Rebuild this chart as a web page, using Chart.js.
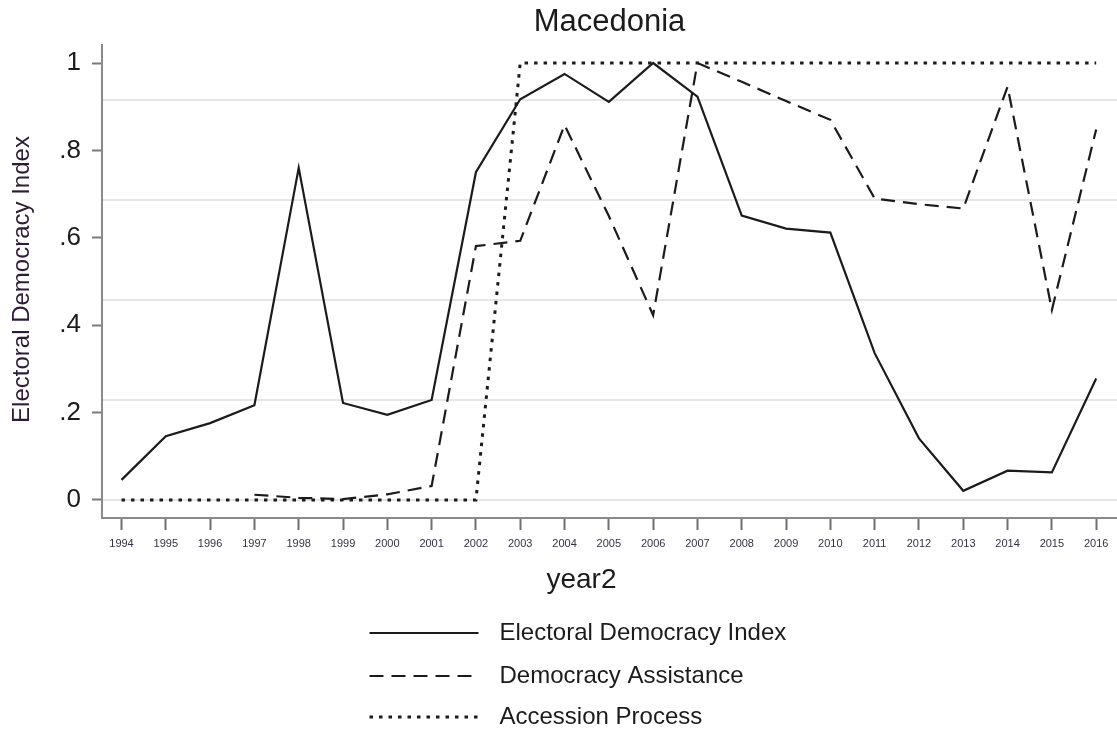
<!DOCTYPE html>
<html>
<head>
<meta charset="utf-8">
<title>Macedonia</title>
<script src="https://cdn.jsdelivr.net/npm/chart.js@4.4.1/dist/chart.umd.min.js"></script>
<style>
  html, body { margin: 0; padding: 0; background: #ffffff; }
  #wrap { width: 1117px; height: 730px; position: relative; }
</style>
</head>
<body>
<div id="wrap"><canvas id="chart" width="1117" height="730"></canvas></div>
<script>
// Years on the horizontal axis
const years = [1994, 1995, 1996, 1997, 1998, 1999, 2000, 2001, 2002, 2003, 2004, 2005,
               2006, 2007, 2008, 2009, 2010, 2011, 2012, 2013, 2014, 2015, 2016];

// Electoral Democracy Index
const electoralDemocracy = [0.046, 0.146, 0.176, 0.217, 0.760, 0.222, 0.195, 0.229, 0.750, 0.917,
                            0.975, 0.911, 1.000, 0.923, 0.651, 0.621, 0.612, 0.336, 0.141, 0.021,
                            0.067, 0.063, 0.278];

// Democracy Assistance (no values before 1997)
const democracyAssistance = [null, null, null, 0.012, 0.005, 0.002, 0.013, 0.032, 0.581, 0.593,
                             0.858, 0.650, 0.423, 1.000, 0.957, 0.913, 0.870, 0.690, 0.677, 0.667,
                             0.946, 0.435, 0.848];

// Accession Process
const accessionProcess = [0, 0, 0, 0, 0, 0, 0, 0, 0, 1, 1, 1, 1, 1, 1, 1, 1, 1, 1, 1, 1, 1, 1];

// Left axis ticks and their labels
const yTickValues = [0, 0.2, 0.4, 0.6, 0.8, 1];
const yTickLabels = ['0', '.2', '.4', '.6', '.8', '1'];

// Horizontal reference lines (secondary scale)
const gridValues = [0, 0.2288, 0.4577, 0.6865, 0.9153];

const seriesNames = ['Electoral Democracy Index', 'Democracy Assistance', 'Accession Process'];

const FONT = "'Liberation Sans', Arial, Helvetica, sans-serif";
const INK = '#1b1b1b';
const AXIS = '#8a8a8a';

const toPoints = arr => arr.map((v, i) => ({ x: years[i], y: v }));

// Title, axis titles and the stacked legend under the plot
const annotations = {
  id: 'annotations',
  afterDraw(chart) {
    const { ctx, chartArea } = chart;
    const midX = (chartArea.left + chartArea.right) / 2;
    const midY = (chartArea.top + chartArea.bottom) / 2;
    ctx.save();
    ctx.fillStyle = INK;
    ctx.textAlign = 'center';
    ctx.textBaseline = 'middle';
    ctx.font = '31px ' + FONT;
    ctx.fillText('Macedonia', midX, 22);

    ctx.font = '28px ' + FONT;
    ctx.fillText('year2', midX - 28, 580);

    ctx.save();
    ctx.translate(22, midY - 2);
    ctx.rotate(-Math.PI / 2);
    ctx.fillStyle = '#2e1b36';
    ctx.font = '24px ' + FONT;
    ctx.fillText('Electoral Democracy Index', 0, 0);
    ctx.restore();

    // legend
    const lineStart = midX - 240;
    const lineEnd = midX - 131;
    const textX = midX - 110;
    const rows = [633, 676, 717];
    chart.data.datasets.forEach((ds, i) => {
      const y = rows[i];
      ctx.save();
      ctx.strokeStyle = ds.borderColor;
      ctx.lineWidth = ds.borderWidth;
      ctx.setLineDash(ds.borderDash || []);
      ctx.beginPath();
      ctx.moveTo(lineStart, y);
      ctx.lineTo(lineEnd, y);
      ctx.stroke();
      ctx.restore();
      ctx.textAlign = 'left';
      ctx.fillStyle = INK;
      ctx.font = '24px ' + FONT;
      ctx.fillText(ds.label, textX, y);
    });
    ctx.restore();
  }
};

new Chart(document.getElementById('chart'), {
  type: 'line',
  data: {
    datasets: [
      {
        label: seriesNames[0],
        data: toPoints(electoralDemocracy),
        borderColor: INK,
        borderWidth: 2.2,
        borderDash: [],
        pointRadius: 0,
        tension: 0,
        yAxisID: 'y'
      },
      {
        label: seriesNames[1],
        data: toPoints(democracyAssistance),
        borderColor: INK,
        borderWidth: 2.2,
        borderDash: [14, 8],
        pointRadius: 0,
        tension: 0,
        spanGaps: false,
        yAxisID: 'y'
      },
      {
        label: seriesNames[2],
        data: toPoints(accessionProcess),
        borderColor: INK,
        borderWidth: 3,
        borderDash: [3.5, 6],
        pointRadius: 0,
        tension: 0,
        yAxisID: 'y'
      }
    ]
  },
  options: {
    responsive: false,
    animation: false,
    layout: { padding: { top: 45, right: 0, bottom: 0, left: 0 } },
    plugins: {
      legend: { display: false },
      title: { display: false },
      tooltip: { enabled: false }
    },
    scales: {
      x: {
        type: 'linear',
        position: 'bottom',
        min: 1993.56,
        max: 2016.47,
        afterBuildTicks(scale) {
          scale.ticks = years.map(v => ({ value: v }));
        },
        afterFit(scale) { scale.height = 212; },
        ticks: {
          autoSkip: false,
          maxRotation: 0,
          padding: 7,
          color: '#333344',
          font: { family: FONT, size: 11 },
          callback: v => String(v)
        },
        grid: {
          drawOnChartArea: false,
          drawTicks: true,
          tickLength: 12,
          tickColor: '#6e6e6e',
          tickWidth: 2
        },
        border: { display: true, color: AXIS, width: 2 }
      },
      y: {
        type: 'linear',
        position: 'left',
        min: -0.0412,
        max: 1.0412,
        afterBuildTicks(scale) {
          scale.ticks = yTickValues.map(v => ({ value: v }));
        },
        afterFit(scale) { scale.width = 102; },
        ticks: {
          padding: 11,
          color: INK,
          font: { family: FONT, size: 26 },
          callback: (v) => {
            const idx = yTickValues.findIndex(t => Math.abs(t - v) < 1e-9);
            return idx >= 0 ? yTickLabels[idx] : '';
          }
        },
        grid: {
          drawOnChartArea: false,
          drawTicks: true,
          tickLength: 10,
          tickColor: '#7a7a7a',
          tickWidth: 2
        },
        border: { display: true, color: AXIS, width: 2 }
      },
      yGrid: {
        type: 'linear',
        position: 'right',
        min: -0.0412,
        max: 1.0412,
        afterBuildTicks(scale) {
          scale.ticks = gridValues.map(v => ({ value: v }));
        },
        afterFit(scale) { scale.width = 0; },
        ticks: { display: false },
        grid: {
          drawOnChartArea: true,
          drawTicks: false,
          color: '#e6e6e6',
          lineWidth: 2
        },
        border: { display: false }
      }
    }
  },
  plugins: [annotations]
});
</script>
</body>
</html>
